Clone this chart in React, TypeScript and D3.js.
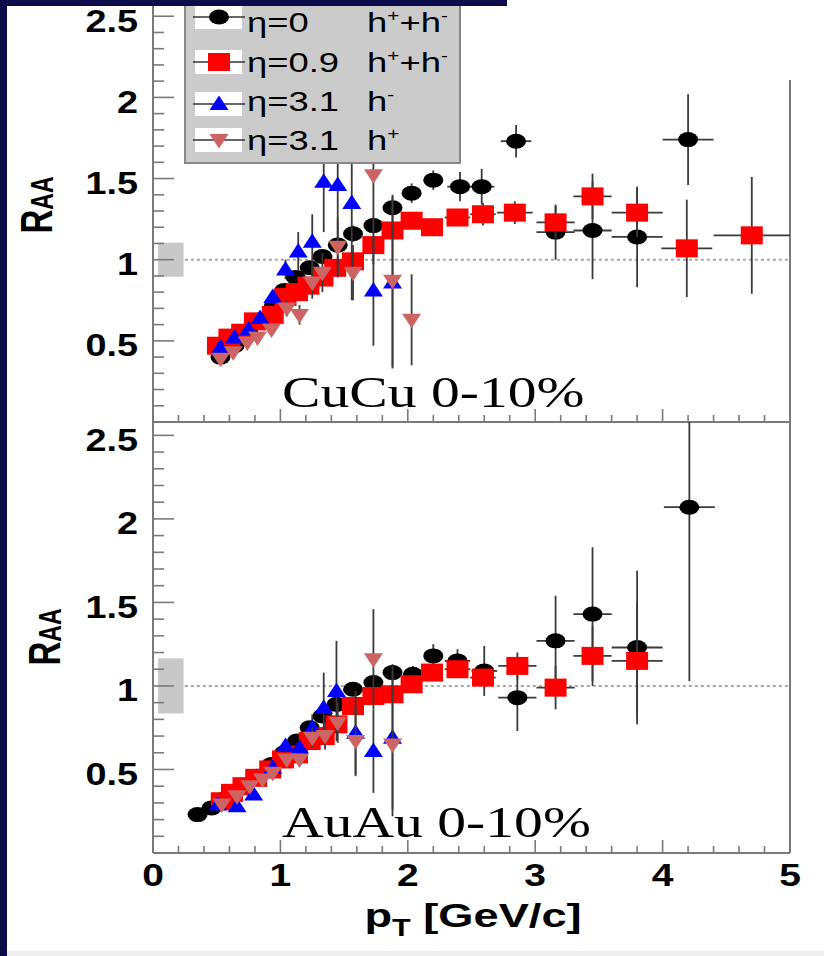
import * as d3 from "d3";

// ---------- CuCu 0-10% ----------
const cuEta0Pt = [0.53, 0.64, 0.75, 0.85, 0.95, 1.03, 1.12, 1.23, 1.33, 1.45, 1.57, 1.73, 1.88, 2.03, 2.2, 2.41, 2.58, 2.85, 3.16, 3.45, 3.8, 4.2];
const cuEta0R = [0.4, 0.47, 0.55, 0.63, 0.72, 0.81, 0.89, 0.95, 1.02, 1.09, 1.16, 1.21, 1.32, 1.41, 1.49, 1.45, 1.45, 1.73, 1.17, 1.18, 1.14, 1.74];
const cuEta0Ey = [0.02, 0.02, 0.02, 0.02, 0.02, 0.03, 0.03, 0.03, 0.03, 0.04, 0.05, 0.05, 0.05, 0.06, 0.06, 0.09, 0.11, 0.1, 0.17, 0.3, 0.31, 0.28];
const cuEta0Ex = [0.05, 0.05, 0.05, 0.05, 0.05, 0.05, 0.05, 0.05, 0.05, 0.05, 0.05, 0.05, 0.05, 0.05, 0.05, 0.1, 0.1, 0.12, 0.15, 0.15, 0.2, 0.2];

const cuEta09Pt = [0.51, 0.6, 0.7, 0.8, 0.94, 1.04, 1.13, 1.22, 1.33, 1.43, 1.57, 1.73, 1.88, 2.03, 2.19, 2.39, 2.59, 2.84, 3.16, 3.45, 3.8, 4.19, 4.7];
const cuEta09R = [0.47, 0.52, 0.55, 0.62, 0.66, 0.77, 0.8, 0.84, 0.89, 0.95, 0.99, 1.09, 1.18, 1.24, 1.2, 1.26, 1.28, 1.29, 1.23, 1.39, 1.29, 1.07, 1.15];
const cuEta09Ey = [0.02, 0.02, 0.02, 0.02, 0.02, 0.02, 0.02, 0.02, 0.03, 0.03, 0.03, 0.04, 0.04, 0.05, 0.05, 0.05, 0.07, 0.07, 0.1, 0.14, 0.15, 0.3, 0.36];
const cuEta09Ex = [0.05, 0.05, 0.05, 0.05, 0.05, 0.05, 0.05, 0.05, 0.05, 0.05, 0.05, 0.05, 0.05, 0.05, 0.05, 0.1, 0.1, 0.14, 0.15, 0.15, 0.2, 0.2, 0.3];

const cuEta31mPt = [0.53, 0.64, 0.75, 0.84, 0.94, 1.04, 1.14, 1.25, 1.34, 1.45, 1.56, 1.73, 1.88];
const cuEta31mR = [0.46, 0.52, 0.57, 0.64, 0.77, 0.94, 1.05, 1.11, 1.48, 1.46, 1.35, 0.81, 0.86];
const cuEta31mEy = [0.02, 0.02, 0.02, 0.03, 0.04, 0.06, 0.12, 0.17, 0.31, 0.57, 0.6, 0.34, 0.53];

const cuEta31pPt = [0.53, 0.63, 0.74, 0.82, 0.93, 1.05, 1.15, 1.25, 1.33, 1.45, 1.57, 1.73, 1.88, 2.03];
const cuEta31pR = [0.39, 0.43, 0.49, 0.52, 0.57, 0.7, 0.66, 0.86, 0.92, 1.08, 0.92, 1.52, 0.87, 0.63];
const cuEta31pEy = [0.02, 0.02, 0.02, 0.03, 0.03, 0.05, 0.06, 0.1, 0.12, 0.18, 0.17, 0.55, 0.53, 0.28];

// ---------- AuAu 0-10% ----------
const auEta0Pt = [0.35, 0.46, 0.58, 0.7, 0.82, 0.93, 1.03, 1.13, 1.23, 1.33, 1.44, 1.57, 1.73, 1.88, 2.04, 2.2, 2.39, 2.6, 2.86, 3.16, 3.45, 3.8, 4.21];
const auEta0R = [0.23, 0.27, 0.33, 0.39, 0.46, 0.53, 0.6, 0.67, 0.75, 0.82, 0.89, 0.98, 1.02, 1.08, 1.07, 1.18, 1.15, 1.09, 0.93, 1.27, 1.43, 1.23, 2.07];
const auEta0Ey = [0.01, 0.01, 0.01, 0.01, 0.02, 0.02, 0.02, 0.02, 0.03, 0.03, 0.03, 0.04, 0.05, 0.05, 0.05, 0.07, 0.07, 0.15, 0.2, 0.27, 0.4, 0.46, 1.04];
const auEta0Ex = [0.05, 0.05, 0.05, 0.05, 0.05, 0.05, 0.05, 0.05, 0.05, 0.05, 0.05, 0.05, 0.05, 0.05, 0.05, 0.05, 0.1, 0.1, 0.15, 0.15, 0.15, 0.2, 0.2];

const auEta09Pt = [0.54, 0.62, 0.71, 0.81, 0.92, 1.02, 1.13, 1.23, 1.34, 1.44, 1.57, 1.73, 1.88, 2.03, 2.19, 2.39, 2.59, 2.86, 3.16, 3.45, 3.8];
const auEta09R = [0.31, 0.36, 0.4, 0.45, 0.5, 0.56, 0.59, 0.67, 0.7, 0.77, 0.88, 0.94, 0.95, 1.01, 1.08, 1.1, 1.05, 1.12, 0.99, 1.18, 1.15];
const auEta09Ey = [0.01, 0.01, 0.01, 0.01, 0.02, 0.02, 0.02, 0.02, 0.02, 0.03, 0.03, 0.03, 0.04, 0.04, 0.04, 0.05, 0.05, 0.08, 0.13, 0.18, 0.35];
const auEta09Ex = [0.05, 0.05, 0.05, 0.05, 0.05, 0.05, 0.05, 0.05, 0.05, 0.05, 0.05, 0.05, 0.05, 0.05, 0.05, 0.1, 0.1, 0.15, 0.15, 0.15, 0.2];

const auEta31mPt = [0.51, 0.66, 0.79, 0.94, 1.04, 1.15, 1.25, 1.34, 1.44, 1.59, 1.73, 1.88];
const auEta31mR = [0.29, 0.28, 0.35, 0.51, 0.64, 0.63, 0.75, 0.87, 0.97, 0.72, 0.61, 0.69];
const auEta31mEy = [0.01, 0.01, 0.02, 0.03, 0.04, 0.05, 0.08, 0.21, 0.3, 0.25, 0.25, 0.43];

const auEta31pPt = [0.54, 0.66, 0.76, 0.86, 0.94, 1.05, 1.15, 1.25, 1.35, 1.45, 1.59, 1.73, 1.88];
const auEta31pR = [0.29, 0.34, 0.4, 0.44, 0.48, 0.56, 0.56, 0.69, 0.7, 0.78, 0.67, 1.16, 0.65];
const auEta31pEy = [0.01, 0.02, 0.02, 0.02, 0.03, 0.03, 0.04, 0.06, 0.08, 0.12, 0.21, 0.3, 0.43];

const legendLabels = ["η=0", "η=0.9", "η=3.1", "η=3.1"];
const legendCharge = [["+", "-"], ["+", "-"], ["-"], ["+"]];
const yTicks = [0.5, 1, 1.5, 2, 2.5];
const xTicks = [0, 1, 2, 3, 4, 5];
const panelLabels = ["CuCu 0-10%", "AuAu 0-10%"];
const sysHalf = [0.105, 0.165]; // normalisation uncertainty boxes at R=1

type Kind = "circle" | "square" | "up" | "down";
type Series = { pt: number[]; r: number[]; ey: number[]; ex?: number[]; kind: Kind; color: string };

const BLACK = "#000000";
const RED = "#ff0000";
const BLUE = "#0000ff";
const PINK = "#cd6464";
const NAVY = "#0d0c4a";
const FRAME = "#7a7a7a";

const cuSeries: Series[] = [
    { pt: cuEta0Pt, r: cuEta0R, ey: cuEta0Ey, ex: cuEta0Ex, kind: "circle", color: BLACK },
    { pt: cuEta09Pt, r: cuEta09R, ey: cuEta09Ey, ex: cuEta09Ex, kind: "square", color: RED },
    { pt: cuEta31mPt, r: cuEta31mR, ey: cuEta31mEy, kind: "up", color: BLUE },
    { pt: cuEta31pPt, r: cuEta31pR, ey: cuEta31pEy, kind: "down", color: PINK },
];
const auSeries: Series[] = [
    { pt: auEta0Pt, r: auEta0R, ey: auEta0Ey, ex: auEta0Ex, kind: "circle", color: BLACK },
    { pt: auEta09Pt, r: auEta09R, ey: auEta09Ey, ex: auEta09Ex, kind: "square", color: RED },
    { pt: auEta31mPt, r: auEta31mR, ey: auEta31mEy, kind: "up", color: BLUE },
    { pt: auEta31pPt, r: auEta31pR, ey: auEta31pEy, kind: "down", color: PINK },
];
const legendKinds: Kind[] = ["circle", "square", "up", "down"];
const legendColors = [BLACK, RED, BLUE, PINK];

const x = d3.scaleLinear().domain([0, 5]).range([153, 790]);
const panels = [
    { y: d3.scaleLinear().domain([0, 2.6]).range([422, 0]), top: 0, rightTop: 80, bottom: 422, series: cuSeries, labelY: 407, raaY: 205, raaX: 52 },
    { y: d3.scaleLinear().domain([0, 2.58]).range([853, 422]), top: 422, rightTop: 422, bottom: 853, series: auSeries, labelY: 837, raaY: 637, raaX: 60 },
];

function Marker({ kind, color, cx, cy }: { kind: Kind; color: string; cx: number; cy: number }) {
    if (kind === "circle") return <ellipse cx={cx} cy={cy} rx={10} ry={7.5} fill={color} />;
    if (kind === "square") return <rect x={cx - 11} y={cy - 9} width={22} height={18} fill={color} />;
    if (kind === "up") return <path d={`M${cx},${cy - 8.5}L${cx + 9.5},${cy + 6}L${cx - 9.5},${cy + 6}Z`} fill={color} />;
    return <path d={`M${cx},${cy + 8.5}L${cx + 9.5},${cy - 6}L${cx - 9.5},${cy - 6}Z`} fill={color} />;
}

function SText(props: { x: number; y: number; sx?: number; anchor?: string; size: number; bold?: boolean; serif?: boolean; children: any }) {
    const { x: tx, y: ty, sx = 1.22, anchor = "start", size, bold, serif, children } = props;
    return (
        <g transform={`translate(${tx},${ty}) scale(${sx},1)`}>
            <text
                textAnchor={anchor}
                fontSize={size}
                fontWeight={bold ? "bold" : "normal"}
                fontFamily={serif ? "'Liberation Serif', 'Times New Roman', serif" : "'Liberation Sans', Arial, sans-serif"}
                fill="#000"
            >
                {children}
            </text>
        </g>
    );
}

function Panel({ p, idx }: { p: (typeof panels)[number]; idx: number }) {
    const y = p.y;
    const minor = d3.range(0, 5.001, 0.2);
    const yMinor = d3.range(0.1, 2.6, 0.1).filter((v) => y(v) > p.top + 2);
    const clipId = `clip${idx}`;
    return (
        <g>
            <defs>
                <clipPath id={clipId}>
                    <rect x={x(0)} y={p.top} width={x(5) - x(0)} height={p.bottom - p.top} />
                </clipPath>
            </defs>
            {/* normalisation box and unity line */}
            <rect x={x(0.04)} y={y(1 + sysHalf[idx])} width={x(0.24) - x(0.04)} height={y(1 - sysHalf[idx]) - y(1 + sysHalf[idx])} fill="#c8c8c8" />
            <line x1={x(0.25)} x2={x(5)} y1={y(1)} y2={y(1)} stroke="#a8a8a8" strokeWidth={2} strokeDasharray="3,3" />

            {/* axes */}
            <line x1={x(0)} x2={x(5)} y1={p.bottom} y2={p.bottom} stroke={FRAME} strokeWidth={2} />
            <line x1={x(0)} x2={x(0)} y1={p.top} y2={p.bottom} stroke={FRAME} strokeWidth={2} />
            <line x1={x(5)} x2={x(5)} y1={p.rightTop} y2={p.bottom} stroke={FRAME} strokeWidth={2} />
            {minor.map((v, i) => {
                const major = Math.abs(v - Math.round(v)) < 1e-6;
                return <line key={"xt" + i} x1={x(v)} x2={x(v)} y1={p.bottom} y2={p.bottom - (major ? 13 : 7)} stroke={FRAME} strokeWidth={1.6} />;
            })}
            {yMinor.map((v, i) => {
                const major = Math.abs(v * 2 - Math.round(v * 2)) < 1e-6;
                return <line key={"yt" + i} x1={x(0)} x2={x(0) + (major ? 21 : 11)} y1={y(v)} y2={y(v)} stroke={FRAME} strokeWidth={1.6} />;
            })}
            {yTicks.map((v) => (
                <SText key={"yl" + v} x={138} y={y(v) + 15.5} anchor="end" size={31} bold>
                    {String(v)}
                </SText>
            ))}

            {/* R_AA */}
            <g transform={`translate(${p.raaX},${p.raaY}) rotate(-90) scale(1,1.35)`}>
                <text textAnchor="middle" fontSize={33} fontWeight="bold" fontFamily="'Liberation Sans', Arial, sans-serif">
                    R<tspan fontSize={23} dy={1}>AA</tspan>
                </text>
            </g>

            {/* data */}
            <g clipPath={`url(#${clipId})`}>
                {p.series.map((s, si) => (
                    <g key={"s" + si}>
                        {s.pt.map((pt, i) => (
                            <g key={i} stroke="#3a3a3a" strokeWidth={1.8}>
                                <line x1={x(pt)} x2={x(pt)} y1={y(s.r[i] - s.ey[i])} y2={y(s.r[i] + s.ey[i])} />
                                {s.ex && <line x1={x(pt - s.ex[i])} x2={x(pt + s.ex[i])} y1={y(s.r[i])} y2={y(s.r[i])} />}
                            </g>
                        ))}
                        {s.pt.map((pt, i) => (
                            <Marker key={"m" + i} kind={s.kind} color={s.color} cx={x(pt)} cy={y(s.r[i])} />
                        ))}
                    </g>
                ))}
            </g>

            <SText x={282} y={p.labelY} size={44} serif sx={1.31}>
                {panelLabels[idx]}
            </SText>
        </g>
    );
}

function Legend() {
    const rowY = [17, 62, 104, 140];
    return (
        <g>
            <rect x={185} y={-5} width={275} height={168} fill="#cbcbcb" stroke="#888" strokeWidth={2} />
            {rowY.map((ry, i) => (
                <g key={i}>
                    <rect x={195} y={ry - 12} width={47} height={24} fill="#fff" />
                    <line x1={193} x2={245} y1={ry} y2={ry} stroke="#333" strokeWidth={1.5} />
                    <Marker kind={legendKinds[i]} color={legendColors[i]} cx={219} cy={ry} />
                    <SText x={247} y={ry + 10 + (i === 0 ? 5 : i === 2 ? -3 : 0)} size={28} sx={1.3}>
                        {legendLabels[i]}
                    </SText>
                    <SText x={367} y={ry + 10 + (i === 0 ? 5 : i === 2 ? -3 : 0)} size={28} sx={1.3}>
                        h<tspan fontSize={16} dy={-11}>{legendCharge[i][0]}</tspan>
                        {legendCharge[i].length > 1 && (
                            <>
                                <tspan dy={11}>+h</tspan>
                                <tspan fontSize={16} dy={-11}>{legendCharge[i][1]}</tspan>
                            </>
                        )}
                    </SText>
                </g>
            ))}
        </g>
    );
}

export default function App() {
    return (
        <svg width={824} height={956} style={{ position: "absolute", left: 0, top: 0, background: "#fff" }}>
            <rect x={0} y={0} width={824} height={956} fill="#fff" />
            {panels.map((p, i) => (
                <Panel key={i} p={p} idx={i} />
            ))}
            <Legend />
            {xTicks.map((v) => (
                <SText key={"xl" + v} x={x(v)} y={886} anchor="middle" size={32} bold>
                    {String(v)}
                </SText>
            ))}
            <SText x={473} y={927} anchor="middle" size={34} bold sx={1.33}>
                p<tspan fontSize={23} dy={9}>T</tspan>
                <tspan dy={-9}> [GeV/c]</tspan>
            </SText>

            {/* slide background edges */}
            <rect x={0} y={0} width={507} height={6} fill={NAVY} />
            <rect x={0} y={0} width={7} height={956} fill={NAVY} />
            <rect x={7} y={951} width={817} height={5} fill="#eeeeee" />
        </svg>
    );
}
